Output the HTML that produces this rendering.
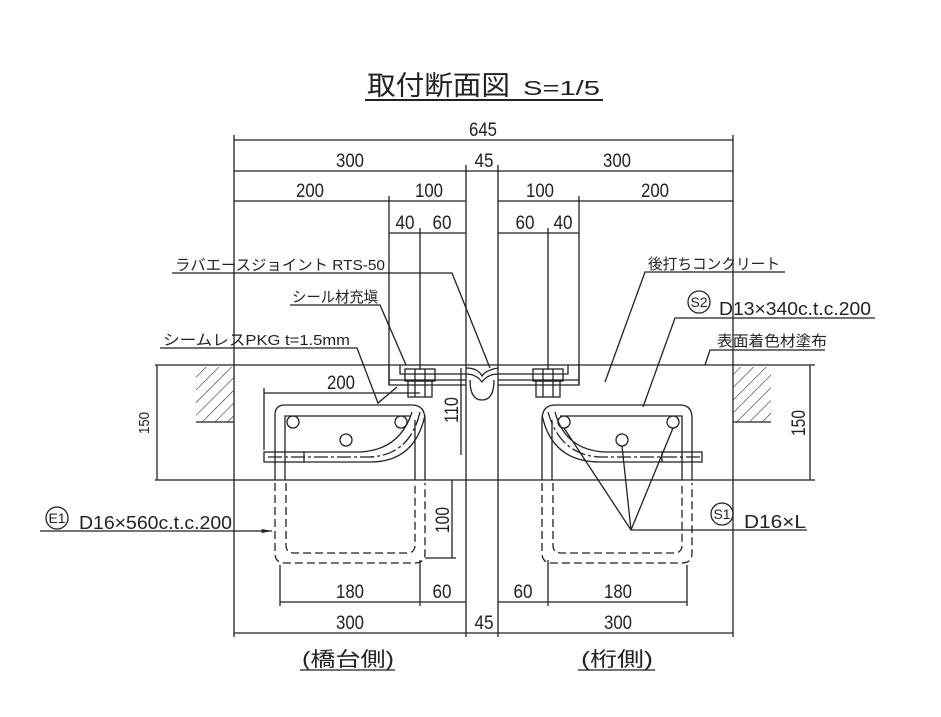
<!DOCTYPE html>
<html><head><meta charset="utf-8"><style>
html,body{margin:0;padding:0;background:#fff}
svg{display:block}
text{font-family:"Liberation Sans","Noto Sans CJK JP",sans-serif;fill:#222}
</style></head><body>
<svg width="941" height="717" viewBox="0 0 941 717" xmlns="http://www.w3.org/2000/svg">
<defs>
<marker id="a" markerWidth="8" markerHeight="6" refX="8" refY="3" orient="auto-start-reverse"><path d="M0,1.5 L8,3 L0,4.5z" fill="#222"/></marker>
<pattern id="h" width="9" height="9" patternUnits="userSpaceOnUse" patternTransform="rotate(45)"><line x1="0" y1="0" x2="0" y2="9" stroke="#333" stroke-width="1.2"/></pattern>
</defs>
<g stroke="#222" stroke-width="1.3" fill="none">
<line x1="365" y1="100" x2="603" y2="100" stroke-width="2"/>
<line x1="234" y1="135" x2="234" y2="637"/>
<line x1="733" y1="135" x2="733" y2="637"/>
<line x1="466" y1="165" x2="466" y2="637"/>
<line x1="498" y1="165" x2="498" y2="637"/>
<line x1="389" y1="196" x2="389" y2="385"/>
<line x1="579" y1="196" x2="579" y2="385"/>
<line x1="420" y1="228" x2="420" y2="370"/>
<line x1="548" y1="228" x2="548" y2="370"/>
<line x1="234" y1="140" x2="733" y2="140"/>
<line x1="234" y1="171" x2="733" y2="171"/>
<line x1="234" y1="201" x2="466" y2="201"/>
<line x1="498" y1="201" x2="733" y2="201"/>
<line x1="389" y1="233" x2="466" y2="233"/>
<line x1="498" y1="233" x2="579" y2="233"/>
<line x1="155" y1="365" x2="815" y2="365"/>
<line x1="155" y1="480" x2="815" y2="480"/>
<rect x="196" y="367" width="38" height="55" fill="url(#h)" stroke="none"/>
<line x1="196" y1="422" x2="234" y2="422"/>
<rect x="733" y="367" width="38" height="55" fill="url(#h)" stroke="none"/>
<line x1="733" y1="422" x2="771" y2="422"/>
<line x1="157" y1="365" x2="157" y2="480"/>
<line x1="810" y1="365" x2="810" y2="480"/>
<path d="M389 365 V385 H466 M389 380 H466 M400 365 V374 H466"/>
<path d="M579 365 V385 H498 M579 380 H498 M568 365 V374 H498"/>
<rect x="405" y="369" width="30" height="12"/><rect x="408" y="381" width="24" height="16"/>
<line x1="415" y1="369" x2="415" y2="397"/><line x1="425" y1="369" x2="425" y2="397"/>
<rect x="533" y="369" width="30" height="12"/><rect x="536" y="381" width="24" height="16"/>
<line x1="543" y1="369" x2="543" y2="397"/><line x1="553" y1="369" x2="553" y2="397"/>
<path d="M466 368 Q478 368 482 376 Q486 370 498 368 M466 374 Q476 374 482 382 Q488 374 498 374"/>
<path d="M470 380 Q470 400 482 400 Q494 400 494 380"/>
<path d="M275 480 V415 Q275 405 285 405 H412 Q425 405 425 420 V480 M285 480 V416 H410 M415 420 V480"/>
<rect x="264" y="452" width="40" height="10"/>
<path d="M268 457 H370 Q410 455 420 412" stroke-dasharray="14 3 3 3"/>
<path d="M304 452 H360 Q400 450 412 412 M304 462 H370 Q415 462 425 415"/>
<circle cx="293" cy="422" r="6"/><circle cx="346" cy="440" r="6"/><circle cx="401" cy="422" r="6"/>
<path d="M275 483 V553 Q275 563 285 563 H415 Q425 563 425 553 V483 M286 483 V545 Q286 553 294 553 H407 Q415 553 415 545 V483" stroke-dasharray="8 4"/>
<path d="M692 480 V418 Q692 405 680 405 H555 Q542 405 542 420 V480 M682 480 V416 H560 M552 420 V480"/>
<rect x="662" y="452" width="40" height="10"/>
<path d="M700 457 H600 Q560 455 548 412" stroke-dasharray="14 3 3 3"/>
<path d="M662 452 H605 Q565 450 555 412 M662 462 H600 Q552 462 542 415"/>
<circle cx="564" cy="422" r="6"/><circle cx="622" cy="440" r="6"/><circle cx="673" cy="422" r="6"/>
<path d="M542 483 V553 Q542 563 552 563 H682 Q692 563 692 553 V483 M553 483 V545 Q553 553 561 553 H674 Q682 553 682 545 V483" stroke-dasharray="8 4"/>
<line x1="264" y1="393" x2="420" y2="393"/><line x1="264" y1="388" x2="264" y2="450"/>
<line x1="461" y1="368" x2="461" y2="455"/>
<line x1="452" y1="480" x2="452" y2="558"/>
<line x1="425" y1="558" x2="456" y2="558"/>
<line x1="280" y1="565" x2="280" y2="606"/><line x1="420" y1="560" x2="420" y2="606"/>
<line x1="687" y1="565" x2="687" y2="606"/><line x1="548" y1="560" x2="548" y2="606"/>
<line x1="280" y1="602" x2="466" y2="602"/>
<line x1="498" y1="602" x2="687" y2="602"/>
<line x1="234" y1="633" x2="733" y2="633"/>
<path d="M172 273 H452 L490 368"/>
<path d="M290 305 H380 L406 365"/>
<path d="M160 348 H357 L378 403 L397 387"/>
<path d="M785 272 H645 L605 382"/>
<path d="M875 318 H675 L643 407"/>
<path d="M825 350 H710 L705 365"/>
<path d="M807 530 H631 L564 428 M631 530 L622 446 M631 530 L673 428"/>
<path d="M40 531 H272" marker-end="url(#a)"/>
<circle cx="57" cy="518" r="11"/>
<circle cx="722" cy="514" r="11"/>
<circle cx="699" cy="302" r="11"/>
<line x1="300" y1="670" x2="395" y2="670"/>
<line x1="578" y1="670" x2="655" y2="670"/>
</g>
<text x="367" y="95" font-size="27" textLength="143" lengthAdjust="spacingAndGlyphs">取付断面図</text>
<text x="523" y="95" font-size="20" textLength="77" lengthAdjust="spacingAndGlyphs">S=1/5</text>
<g font-size="19" text-anchor="middle">
<text x="483" y="136" textLength="28" lengthAdjust="spacingAndGlyphs">645</text>
<text x="350" y="167" textLength="28" lengthAdjust="spacingAndGlyphs">300</text>
<text x="617" y="167" textLength="28" lengthAdjust="spacingAndGlyphs">300</text>
<text x="484" y="167" textLength="19" lengthAdjust="spacingAndGlyphs">45</text>
<text x="310" y="197" textLength="28" lengthAdjust="spacingAndGlyphs">200</text>
<text x="429" y="197" textLength="28" lengthAdjust="spacingAndGlyphs">100</text>
<text x="540" y="197" textLength="28" lengthAdjust="spacingAndGlyphs">100</text>
<text x="655" y="197" textLength="28" lengthAdjust="spacingAndGlyphs">200</text>
<text x="405" y="229" textLength="19" lengthAdjust="spacingAndGlyphs">40</text>
<text x="442" y="229" textLength="19" lengthAdjust="spacingAndGlyphs">60</text>
<text x="525" y="229" textLength="19" lengthAdjust="spacingAndGlyphs">60</text>
<text x="563" y="229" textLength="19" lengthAdjust="spacingAndGlyphs">40</text>
<text x="341" y="389" textLength="28" lengthAdjust="spacingAndGlyphs">200</text>
<text x="350" y="598" textLength="28" lengthAdjust="spacingAndGlyphs">180</text>
<text x="442" y="598" textLength="19" lengthAdjust="spacingAndGlyphs">60</text>
<text x="523" y="598" textLength="19" lengthAdjust="spacingAndGlyphs">60</text>
<text x="618" y="598" textLength="28" lengthAdjust="spacingAndGlyphs">180</text>
<text x="350" y="629" textLength="28" lengthAdjust="spacingAndGlyphs">300</text>
<text x="618" y="629" textLength="28" lengthAdjust="spacingAndGlyphs">300</text>
<text x="484" y="629" textLength="19" lengthAdjust="spacingAndGlyphs">45</text>
<text transform="translate(149,423) rotate(-90)" font-size="15" textLength="22" lengthAdjust="spacingAndGlyphs">150</text>
<text transform="translate(805,423) rotate(-90)" textLength="26" lengthAdjust="spacingAndGlyphs">150</text>
<text transform="translate(458,410) rotate(-90)" textLength="26" lengthAdjust="spacingAndGlyphs">110</text>
<text transform="translate(449,520) rotate(-90)" textLength="26" lengthAdjust="spacingAndGlyphs">100</text>
<text x="348" y="666" font-size="20" textLength="92" lengthAdjust="spacingAndGlyphs">(橋台側)</text>
<text x="617" y="666" font-size="20" textLength="72" lengthAdjust="spacingAndGlyphs">(桁側)</text>
</g>
<g font-size="15">
<text x="175" y="270" textLength="210" lengthAdjust="spacingAndGlyphs">ラバエースジョイント RTS-50</text>
<text x="292" y="302" textLength="86" lengthAdjust="spacingAndGlyphs">シール材充塡</text>
<text x="163" y="345" textLength="187" lengthAdjust="spacingAndGlyphs">シームレスPKG t=1.5mm</text>
<text x="648" y="269" textLength="132" lengthAdjust="spacingAndGlyphs">後打ちコンクリート</text>
<text x="717" y="346" textLength="110" lengthAdjust="spacingAndGlyphs">表面着色材塗布</text>
<text x="719" y="315" font-size="18" textLength="152" lengthAdjust="spacingAndGlyphs">D13×340c.t.c.200</text>
<text x="79" y="529" font-size="18" textLength="153" lengthAdjust="spacingAndGlyphs">D16×560c.t.c.200</text>
<text x="744" y="528" font-size="18" textLength="62" lengthAdjust="spacingAndGlyphs">D16×L</text>
<text x="57" y="523" font-size="14" text-anchor="middle">E1</text>
<text x="722" y="519" font-size="14" text-anchor="middle">S1</text>
<text x="699" y="307" font-size="14" text-anchor="middle">S2</text>
</g>
</svg>
</body></html>
